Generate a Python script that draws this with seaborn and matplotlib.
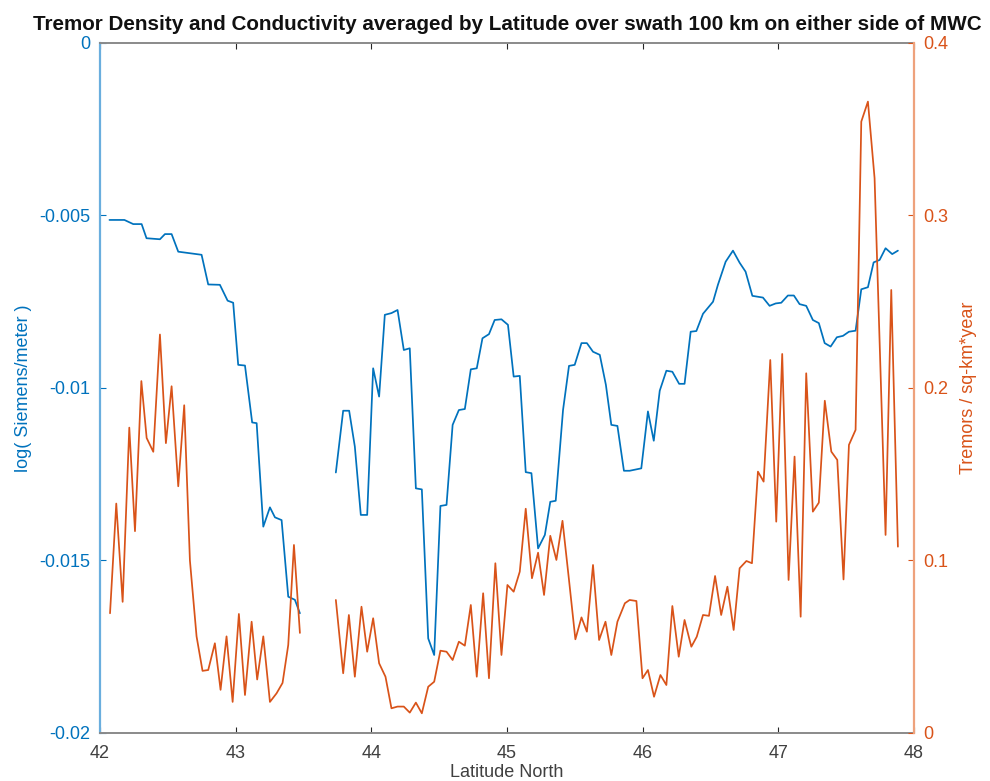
import numpy as np
import pandas as pd
import matplotlib
matplotlib.use("Agg")
import matplotlib.pyplot as plt
import seaborn as sns

# ---------------- data ----------------
cond_lat_south = [42.07, 42.18, 42.245, 42.307, 42.343, 42.442, 42.479, 42.528, 42.577, 42.749,
                  42.798, 42.884, 42.941, 42.982, 43.019, 43.069, 43.122, 43.155, 43.204, 43.253,
                  43.29, 43.339, 43.388, 43.437, 43.474]
cond_south = [-0.00513, -0.00513, -0.00525, -0.00525, -0.00566, -0.00569, -0.00554, -0.00554, -0.00605, -0.00614,
              -0.00700, -0.00701, -0.00747, -0.00753, -0.00933, -0.00935, -0.01100, -0.01102, -0.01402, -0.01346,
              -0.01375, -0.01383, -0.01605, -0.01614, -0.01653]

cond_lat_north = [43.739, 43.793, 43.837, 43.879, 43.923, 43.97, 44.014, 44.058, 44.1, 44.149,
                  44.194, 44.24, 44.284, 44.329, 44.373, 44.42, 44.464, 44.51, 44.555, 44.6,
                  44.646, 44.69, 44.734, 44.778, 44.82, 44.868, 44.91, 44.96, 45.008, 45.05,
                  45.095, 45.139, 45.181, 45.23, 45.28, 45.32, 45.36, 45.414, 45.458, 45.5,
                  45.55, 45.59, 45.635, 45.685, 45.73, 45.77, 45.815, 45.863, 45.905, 45.991,
                  46.04, 46.083, 46.127, 46.176, 46.22, 46.27, 46.31, 46.355, 46.397, 46.446,
                  46.52, 46.556, 46.613, 46.667, 46.716, 46.76, 46.81, 46.888, 46.937, 46.982,
                  47.023, 47.072, 47.116, 47.158, 47.207, 47.256, 47.3, 47.343, 47.387, 47.433,
                  47.478, 47.522, 47.571, 47.613, 47.662, 47.704, 47.748, 47.792, 47.841, 47.883]
cond_north = [-0.01245, -0.01066, -0.01066, -0.01170, -0.01368, -0.01368, -0.00943, -0.01025, -0.00788, -0.00783,
              -0.00774, -0.00890, -0.00885, -0.01291, -0.01294, -0.01726, -0.01774, -0.01342, -0.01339, -0.01107,
              -0.01064, -0.01061, -0.00946, -0.00943, -0.00856, -0.00844, -0.00803, -0.00801, -0.00817, -0.00967,
              -0.00965, -0.01244, -0.01247, -0.01465, -0.01426, -0.01330, -0.01327, -0.01064, -0.00936, -0.00933,
              -0.00870, -0.00870, -0.00895, -0.00904, -0.00991, -0.01107, -0.01110, -0.01240, -0.01240, -0.01233,
              -0.01068, -0.01153, -0.01008, -0.00950, -0.00953, -0.00988, -0.00988, -0.00837, -0.00835, -0.00785,
              -0.00750, -0.00701, -0.00634, -0.00602, -0.00637, -0.00663, -0.00733, -0.00738, -0.00762, -0.00755,
              -0.00753, -0.00732, -0.00732, -0.00757, -0.00762, -0.00803, -0.00812, -0.00870, -0.00880, -0.00853,
              -0.00849, -0.00837, -0.00834, -0.00714, -0.00708, -0.00636, -0.00629, -0.00595, -0.00612, -0.00602]

tremor_lat_south = [42.074, 42.12, 42.167, 42.216, 42.258, 42.305, 42.344, 42.393, 42.442, 42.486,
                    42.528, 42.577, 42.621, 42.663, 42.712, 42.756, 42.798, 42.847, 42.889, 42.933,
                    42.978, 43.024, 43.069, 43.118, 43.159, 43.204, 43.253, 43.302, 43.346, 43.388,
                    43.43, 43.474]
tremor_south = [0.0694, 0.133, 0.076, 0.177, 0.117, 0.204, 0.171, 0.163, 0.231, 0.168,
                0.201, 0.143, 0.190, 0.100, 0.056, 0.036, 0.0365, 0.052, 0.025, 0.056,
                0.018, 0.069, 0.022, 0.0645, 0.031, 0.056, 0.018, 0.023, 0.029, 0.051,
                0.109, 0.058]

tremor_lat_north = [43.739, 43.793, 43.835, 43.879, 43.928, 43.97, 44.014, 44.058, 44.105, 44.149,
                    44.194, 44.24, 44.284, 44.329, 44.373, 44.42, 44.464, 44.51, 44.555, 44.6,
                    44.646, 44.69, 44.734, 44.778, 44.825, 44.868, 44.915, 44.96, 45.004, 45.05,
                    45.095, 45.139, 45.185, 45.23, 45.274, 45.32, 45.365, 45.41, 45.458, 45.505,
                    45.55, 45.59, 45.635, 45.68, 45.727, 45.77, 45.815, 45.87, 45.905, 45.955,
                    46.0, 46.04, 46.085, 46.132, 46.176, 46.22, 46.267, 46.31, 46.36, 46.4,
                    46.446, 46.49, 46.535, 46.58, 46.626, 46.672, 46.716, 46.766, 46.807, 46.851,
                    46.893, 46.942, 46.986, 47.03, 47.077, 47.121, 47.166, 47.207, 47.256, 47.3,
                    47.344, 47.392, 47.436, 47.482, 47.522, 47.571, 47.613, 47.662, 47.711, 47.792,
                    47.834, 47.883]
tremor_north = [0.0771, 0.0346, 0.0684, 0.0326, 0.0732, 0.0471, 0.0665, 0.0404, 0.0326, 0.0143,
                0.0153, 0.0153, 0.0118, 0.0176, 0.0114, 0.0268, 0.0297, 0.0477, 0.0471, 0.0423,
                0.0529, 0.0506, 0.0742, 0.0326, 0.0810, 0.0317, 0.0984, 0.0452, 0.0858, 0.0819,
                0.0935, 0.1300, 0.0897, 0.1045, 0.0800, 0.1143, 0.1003, 0.1230, 0.0887, 0.0543,
                0.0670, 0.0587, 0.0974, 0.0539, 0.0645, 0.0452, 0.0645, 0.0752, 0.0771, 0.0765,
                0.0317, 0.0365, 0.0210, 0.0336, 0.0278, 0.0736, 0.0442, 0.0655, 0.0500, 0.0558,
                0.0684, 0.0679, 0.0910, 0.0684, 0.0848, 0.0597, 0.0955, 0.0997, 0.0984, 0.1515,
                0.1457, 0.2162, 0.1225, 0.2197, 0.0887, 0.1602, 0.0674, 0.2085, 0.1283, 0.1335,
                0.1926, 0.1631, 0.1583, 0.0890, 0.1670, 0.1757, 0.3544, 0.3660, 0.3216, 0.1148,
                0.2568, 0.1080]

x_ticks = [42, 43, 44, 45, 46, 47, 48]
left_ticks = [-0.02, -0.015, -0.01, -0.005, 0]
left_tick_labels = ["-0.02", "-0.015", "-0.01", "-0.005", "0"]
right_ticks = [0, 0.1, 0.2, 0.3, 0.4]
right_tick_labels = ["0", "0.1", "0.2", "0.3", "0.4"]

title = "Tremor Density and Conductivity averaged by Latitude over swath 100 km on either side of MWC"

# ---------------- styling ----------------
sns.set_theme(style="white")
plt.rcParams["font.family"] = ["Liberation Sans", "DejaVu Sans"]

BLUE = "#0072BD"
ORANGE = "#D95319"
DARK = "#262626"

fig = plt.figure(figsize=(9.9, 7.81), dpi=100)
ax = fig.add_axes([0.101, 0.0615, 0.822, 0.8835])
ax2 = ax.twinx()

lw = 1.25
for lat, val in [(cond_lat_south, cond_south), (cond_lat_north, cond_north)]:
    df = pd.DataFrame({"lat": lat, "val": val})
    sns.lineplot(data=df, x="lat", y="val", ax=ax, color=BLUE, linewidth=lw,
                 sort=False, estimator=None)
for lat, val in [(tremor_lat_south, tremor_south), (tremor_lat_north, tremor_north)]:
    df = pd.DataFrame({"lat": lat, "val": val})
    sns.lineplot(data=df, x="lat", y="val", ax=ax2, color=ORANGE, linewidth=lw,
                 sort=False, estimator=None)

ax.set_xlim(42, 48)
ax.set_ylim(-0.02, 0)
ax2.set_ylim(0, 0.4)

ax.set_xticks(x_ticks)
ax.set_xticklabels([str(t) for t in x_ticks])
ax.set_yticks(left_ticks)
ax.set_yticklabels(left_tick_labels)
ax2.set_yticks(right_ticks)
ax2.set_yticklabels(right_tick_labels)

fs = 13
ax.tick_params(axis="x", direction="in", length=4, width=0.8, colors=DARK, labelsize=fs,
               top=True, bottom=True, pad=9, labelcolor="#404040")
ax.tick_params(axis="y", direction="in", length=4, width=0.8, colors=BLUE, labelsize=fs,
               left=True, right=False, pad=7)
ax2.tick_params(axis="y", direction="in", length=4, width=0.8, colors=ORANGE, labelsize=fs,
                right=True, left=False, pad=7)

for s in ["top", "bottom"]:
    ax.spines[s].set_color("#8a8a8a")
    ax.spines[s].set_linewidth(1.4)
ax.spines["left"].set_color("#6aaede")
ax.spines["left"].set_linewidth(1.6)
ax.spines["right"].set_visible(False)
for s in ["top", "bottom", "left"]:
    ax2.spines[s].set_visible(False)
ax2.spines["right"].set_color("#eea27c")
ax2.spines["right"].set_linewidth(1.6)

ax.set_xlabel("Latitude North", fontsize=fs, color="#404040", labelpad=1)
ax.set_ylabel("log( Siemens/meter )", fontsize=fs, color=BLUE, labelpad=5)
ax2.set_ylabel("Tremors / sq-km*year", fontsize=fs, color=ORANGE, labelpad=8)
ax.set_title(title, fontsize=14.9, fontweight="bold", color="#111111", pad=9)

ax.grid(False)
ax2.grid(False)

fig.savefig("out.png", dpi=100)
